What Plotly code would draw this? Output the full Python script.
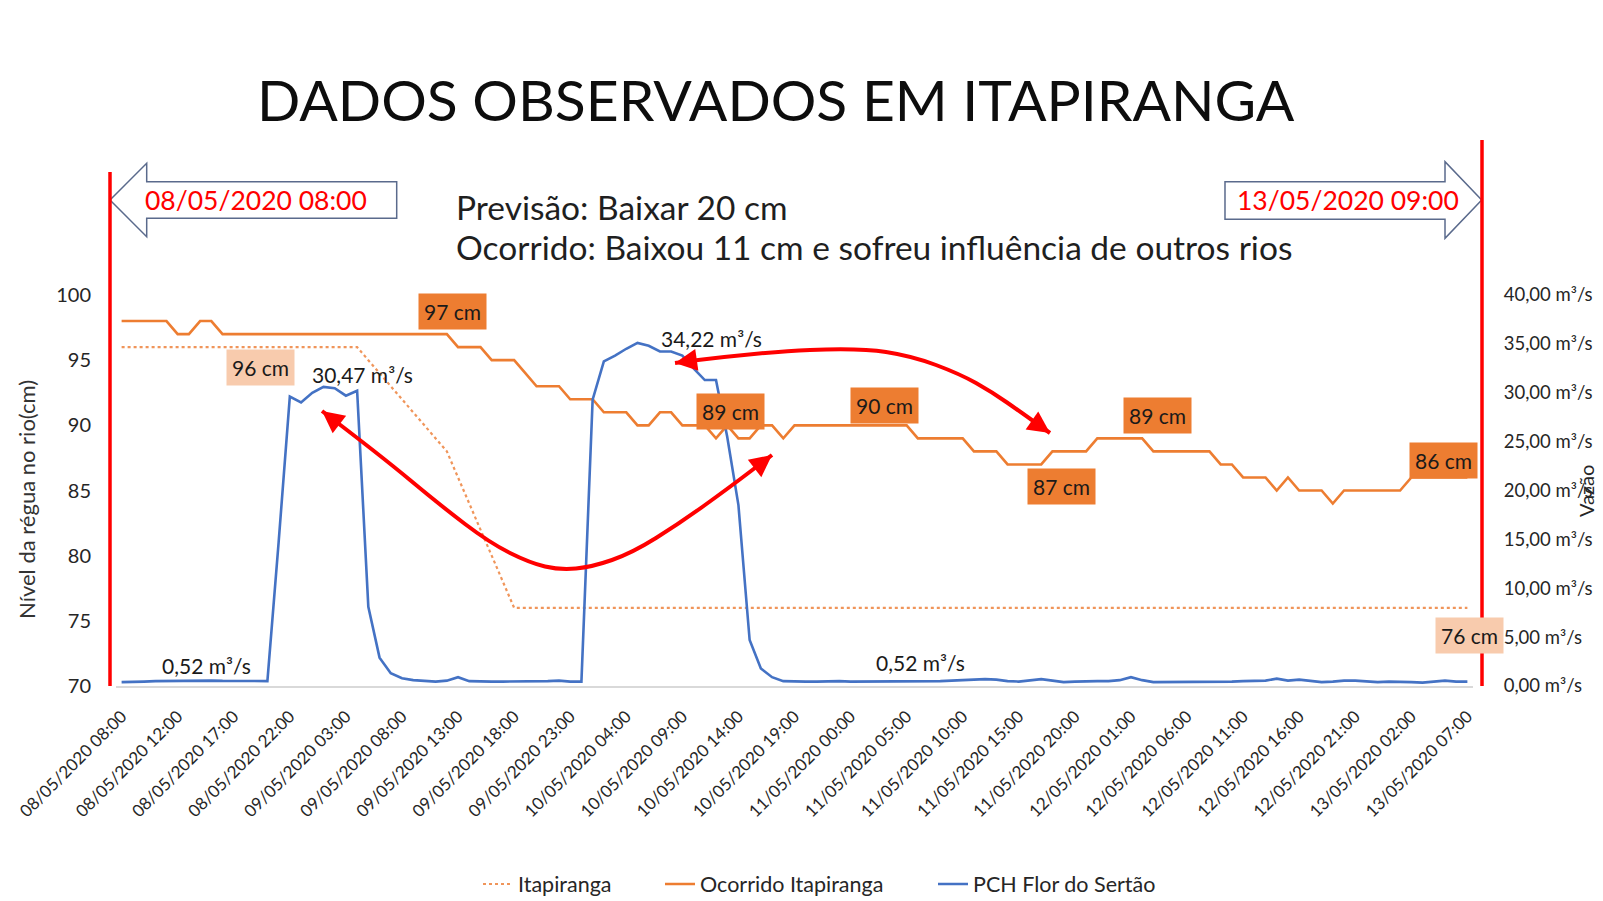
import plotly.graph_objects as go

# ---------------- data ----------------
tick_labels = [
    "08/05/2020 08:00", "08/05/2020 12:00", "08/05/2020 17:00", "08/05/2020 22:00",
    "09/05/2020 03:00", "09/05/2020 08:00", "09/05/2020 13:00", "09/05/2020 18:00",
    "09/05/2020 23:00", "10/05/2020 04:00", "10/05/2020 09:00", "10/05/2020 14:00",
    "10/05/2020 19:00", "11/05/2020 00:00", "11/05/2020 05:00", "11/05/2020 10:00",
    "11/05/2020 15:00", "11/05/2020 20:00", "12/05/2020 01:00", "12/05/2020 06:00",
    "12/05/2020 11:00", "12/05/2020 16:00", "12/05/2020 21:00", "13/05/2020 02:00",
    "13/05/2020 07:00",
]

# forecast (dotted) - Itapiranga
itapiranga = (
    [96] * 22
    + [95, 94, 93, 92, 91, 90, 89, 88, 86, 84, 82, 80, 78]
    + [76] * 86
)

# observed level - Ocorrido Itapiranga
ocorrido = (
    [98] * 5 + [97] * 2 + [98] * 2 + [97] * 21 + [96] * 3 + [95] * 3 + [94]
    + [93] * 3 + [92] * 3 + [91] * 3 + [90] * 2 + [91] * 2 + [90] * 3 + [89]
    + [90] + [89] * 2 + [90] * 2 + [89] + [90] * 11 + [89] * 5 + [88] * 3
    + [87] * 4 + [88] * 4 + [89] * 5 + [88] * 6 + [87] * 2 + [86] * 3 + [85]
    + [86] + [85] * 3 + [84] + [85] * 6 + [86] * 6
)

# discharge - PCH Flor do Sertão (m³/s)
vazao = (
    [0.40, 0.40, 0.45, 0.50, 0.52, 0.55, 0.55, 0.52, 0.55, 0.52, 0.50, 0.50, 0.50]
    + [0.50, 14.7, 29.6, 29.0, 30.0, 30.6, 30.47, 29.7, 30.2, 8.1, 2.9, 1.3, 0.8, 0.6]
    + [0.50, 0.45, 0.55, 0.90, 0.50, 0.45, 0.45, 0.45, 0.45, 0.50, 0.50, 0.50, 0.55, 0.45, 0.45]
    + [29.3, 33.2, 33.8, 34.5, 35.1, 34.8, 34.22, 34.22, 33.8, 32.5, 31.3, 31.3, 25.5, 18.5, 4.7, 1.8, 0.9]
    + [0.50, 0.45, 0.45, 0.45, 0.50, 0.50, 0.45, 0.45, 0.45, 0.50, 0.50, 0.50, 0.50, 0.50, 0.50,
       0.55, 0.60, 0.65, 0.70, 0.65, 0.50, 0.45, 0.55, 0.70, 0.55, 0.40, 0.45, 0.50, 0.50, 0.50,
       0.60, 0.90, 0.60, 0.40, 0.40, 0.40, 0.45, 0.45, 0.45, 0.45, 0.45, 0.50, 0.50, 0.55, 0.75,
       0.55, 0.65, 0.50, 0.40, 0.45, 0.55, 0.55, 0.45, 0.40, 0.45, 0.45, 0.40, 0.35, 0.45, 0.55,
       0.45, 0.45]
)

idx = list(range(len(ocorrido)))
level_ticks = [70, 75, 80, 85, 90, 95, 100]
flow_ticks = [0, 5, 10, 15, 20, 25, 30, 35, 40]
flow_ticktext = ["0,00 m³/s", "5,00 m³/s", "10,00 m³/s", "15,00 m³/s", "20,00 m³/s",
                 "25,00 m³/s", "30,00 m³/s", "35,00 m³/s", "40,00 m³/s"]

# data labels: (text, x index, value, style)
level_labels = [
    ("96 cm", 12.4, 94.4, "light"),
    ("97 cm", 29.5, 98.75, "dark"),
    ("89 cm", 54.3, 91.1, "dark"),
    ("90 cm", 68.0, 91.5, "dark"),
    ("87 cm", 83.8, 85.27, "dark"),
    ("89 cm", 92.4, 90.72, "dark"),
    ("86 cm", 117.9, 87.34, "dark"),
    ("76 cm", 120.2, 73.9, "light"),
]
flow_labels = [
    ("30,47 m³/s", 21.5, 31.9),
    ("34,22 m³/s", 52.6, 35.5),
    ("0,52 m³/s", 7.6, 2.05),
    ("0,52 m³/s", 71.2, 2.45),
]

# ---------------- layout helpers ----------------
OFF = 8  # page body margin of the html
W, H = 1595, 893
ML = 116 - OFF
MT = 295 - OFF
MB = H - (686 - OFF)
MR = W - (1473 - OFF)
PW = W - ML - MR
PH = H - MT - MB
FONT = "Lato"


def P(x, y):
    """page pixel -> paper coordinates"""
    return (x - OFF - ML) / PW, (H - MB - (y - OFF)) / PH


def C(x, y):
    """page pixel -> container coordinates"""
    return (x - OFF) / W, 1 - (y - OFF) / H


def smooth_path(pts):
    pp = [P(*p) for p in pts]
    s = f"M {pp[0][0]:.5f},{pp[0][1]:.5f}"
    for k in range(1, len(pp) - 1):
        mx = (pp[k][0] + pp[k + 1][0]) / 2
        my = (pp[k][1] + pp[k + 1][1]) / 2
        s += f" Q {pp[k][0]:.5f},{pp[k][1]:.5f} {mx:.5f},{my:.5f}"
    s += f" L {pp[-1][0]:.5f},{pp[-1][1]:.5f}"
    return s


def poly_path(pts):
    pp = [P(*p) for p in pts]
    return "M " + " L ".join(f"{a:.5f},{b:.5f}" for a, b in pp) + " Z"


fig = go.Figure()
fig.add_trace(go.Scatter(x=idx, y=itapiranga, name="Itapiranga", mode="lines", legend="legend",
                         line=dict(color="#F0955A", width=2.2, dash="dot")))
fig.add_trace(go.Scatter(x=idx, y=ocorrido, name="Ocorrido Itapiranga", mode="lines", legend="legend2",
                         line=dict(color="#ED7D31", width=2.6)))
fig.add_trace(go.Scatter(x=idx, y=vazao, name="PCH Flor do Sertão", mode="lines", legend="legend3",
                         line=dict(color="#4472C4", width=2.6), yaxis="y2"))

annotations = []
shapes = []

# title and subtitle
tx, ty = P(776, 99)
annotations.append(dict(text="DADOS OBSERVADOS EM ITAPIRANGA", x=tx, y=ty, xref="paper", yref="paper",
                        showarrow=False, xanchor="center", yanchor="middle",
                        font=dict(family=FONT, size=57, color="#0D0D0D")))
for txt, yy in [("Previsão: Baixar 20 cm", 207), ("Ocorrido: Baixou 11 cm e sofreu influência de outros rios", 247)]:
    ax_, ay_ = P(454, yy)
    annotations.append(dict(text=txt, x=ax_, y=ay_, xref="paper", yref="paper", showarrow=False,
                            xanchor="left", yanchor="middle",
                            font=dict(family=FONT, size=33.5, color="#1F1F1F")))

# block arrows with dates
shapes.append(dict(type="path", xref="paper", yref="paper",
                   path=poly_path([(110, 200), (146.7, 163.3), (146.7, 181.7), (396.7, 181.7),
                                   (396.7, 218.3), (146.7, 218.3), (146.7, 236.7)]),
                   line=dict(color="#5A6A8C", width=1.5), fillcolor="white"))
shapes.append(dict(type="path", xref="paper", yref="paper",
                   path=poly_path([(1225, 181.7), (1445, 181.7), (1445, 161.7), (1481.7, 200),
                                   (1445, 238.3), (1445, 219.3), (1225, 219.3)]),
                   line=dict(color="#5A6A8C", width=1.5), fillcolor="white"))
for txt, cx in [("08/05/2020 08:00", 256), ("13/05/2020 09:00", 1348)]:
    a, b = P(cx, 200)
    annotations.append(dict(text=txt, x=a, y=b, xref="paper", yref="paper", showarrow=False,
                            xanchor="center", yanchor="middle",
                            font=dict(family=FONT, size=26.5, color="#FF0000")))

# red vertical lines
for x, y0 in [(110, 172), (1482, 140)]:
    a0, b0 = P(x, y0)
    a1, b1 = P(x, 686)
    shapes.append(dict(type="line", xref="paper", yref="paper", x0=a0, x1=a1, y0=b0, y1=b1,
                       line=dict(color="#FF0000", width=3.5)))

# red curved arrows
curve1 = [(322, 411), (380, 455), (440, 505), (490, 543), (530, 563), (560, 570), (592, 567),
          (632, 553), (680, 523), (730, 487), (772, 455)]
curve2 = [(675, 363), (760, 352), (860, 348), (912, 356), (960, 374), (992, 392), (1022, 413), (1050, 433)]
for c in (curve1, curve2):
    shapes.append(dict(type="path", xref="paper", yref="paper", path=smooth_path(c),
                       line=dict(color="#FF0000", width=4)))
for (tx_, ty_), (dx, dy) in [((322, 411), (11, 8.5)), ((772, 455), (-11, 8.5)),
                             ((675, 363), (14, -2)), ((1050, 433), (-11.5, -8))]:
    a, b = P(tx_, ty_)
    annotations.append(dict(text="", x=a, y=b, xref="paper", yref="paper", showarrow=True,
                            ax=dx, ay=dy, arrowhead=2, arrowsize=1.1, arrowwidth=4,
                            arrowcolor="#FF0000", standoff=0))

# data labels
for txt, xi, v, style in level_labels:
    annotations.append(dict(text=txt, x=xi, y=v, xref="x", yref="y", showarrow=False,
                            xanchor="center", yanchor="middle",
                            bgcolor="#ED7D31" if style == "dark" else "#F8CBAD", borderpad=5,
                            font=dict(family=FONT, size=21, color="#1A1A1A")))
for txt, xi, v in flow_labels:
    annotations.append(dict(text=txt, x=xi, y=v, xref="x", yref="y2", showarrow=False,
                            xanchor="center", yanchor="middle",
                            font=dict(family=FONT, size=21, color="#1A1A1A")))

# axis titles
a, b = P(26, 500)
annotations.append(dict(text="Nível da régua no rio(cm)", x=a, y=b, xref="paper", yref="paper",
                        showarrow=False, textangle=-90, xanchor="center", yanchor="middle",
                        font=dict(family=FONT, size=22, color="#333333")))
a, b = P(1586, 491)
annotations.append(dict(text="Vazão", x=a, y=b, xref="paper", yref="paper",
                        showarrow=False, textangle=-90, xanchor="center", yanchor="middle",
                        font=dict(family=FONT, size=20, color="#262626")))

legend_common = dict(orientation="h", xanchor="left", yanchor="middle", xref="container", yref="container",
                     font=dict(family=FONT, size=21.5, color="#262626"), bgcolor="rgba(0,0,0,0)",
                     borderwidth=0)
lx1, ly = C(478, 884)
lx2, _ = C(660, 884)
lx3, _ = C(933, 884)

fig.update_layout(
    width=W, height=H, autosize=False,
    margin=dict(l=ML, r=MR, t=MT, b=MB, pad=0, autoexpand=False),
    paper_bgcolor="white", plot_bgcolor="white",
    font=dict(family=FONT, color="#262626"),
    showlegend=True,
    legend=dict(legend_common, x=lx1, y=ly),
    legend2=dict(legend_common, x=lx2, y=ly),
    legend3=dict(legend_common, x=lx3, y=ly),
    xaxis=dict(range=[-0.5, len(idx) - 0.5], tickmode="array", tickvals=list(range(0, len(idx), 5)),
               ticktext=tick_labels, tickangle=-45, showgrid=False, zeroline=False, automargin=False,
               showline=True, linecolor="#D9D9D9", linewidth=1.5,
               ticks="outside", ticklen=12, tickcolor="rgba(0,0,0,0)",
               tickfont=dict(family=FONT, size=17, color="#262626")),
    yaxis=dict(range=[70, 100], tickmode="array", tickvals=level_ticks, showgrid=False, zeroline=False,
               automargin=False, showline=False, ticks="outside", ticklen=20, tickcolor="rgba(0,0,0,0)",
               tickfont=dict(family=FONT, size=20, color="#262626")),
    yaxis2=dict(range=[0, 40], overlaying="y", side="right", tickmode="array", tickvals=flow_ticks,
                ticktext=flow_ticktext, showgrid=False, zeroline=False, showline=False, automargin=False,
                ticks="outside", ticklen=26, tickcolor="rgba(0,0,0,0)",
                tickfont=dict(family=FONT, size=18.5, color="#262626")),
    annotations=annotations,
    shapes=shapes,
)

fig.write_html("out.html")
